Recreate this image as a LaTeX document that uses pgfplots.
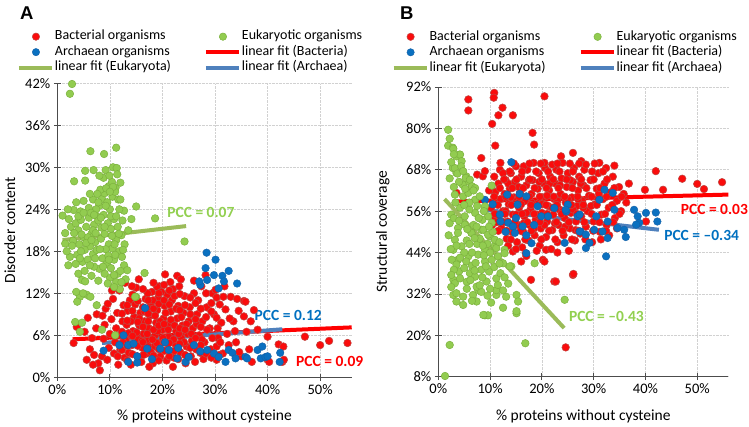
\documentclass[border=0pt]{standalone}
\usepackage{pgfplots}
\pgfplotsset{compat=1.18}
\usepackage{fontspec}
\setmainfont{Carlito}
\newfontfamily\arialfont{Liberation Sans}
\definecolor{redfill}{RGB}{250,12,12}
\definecolor{rededge}{RGB}{192,72,68}
\definecolor{greenfill}{RGB}{146,204,80}
\definecolor{greenedge}{RGB}{124,178,62}
\definecolor{bluefill}{RGB}{10,112,192}
\definecolor{blueedge}{RGB}{20,95,165}
\definecolor{redline}{RGB}{255,0,0}
\definecolor{blueline}{RGB}{79,129,189}
\definecolor{greenline}{RGB}{155,187,89}
\definecolor{pccgreen}{RGB}{146,208,80}
\definecolor{pccblue}{RGB}{0,112,192}
\definecolor{pccred}{RGB}{255,0,0}

\tikzset{pcc/.style={anchor=west, inner sep=0pt, font=\bfseries\fontsize{15.5}{17}\selectfont}}

\pgfplotsset{
  myaxis/.style={
    scale only axis, clip=false,
    axis lines=left, axis line style={-, draw=black!70, line width=0.8pt},
    tick align=center, major tick length=7pt,
    tick style={draw=black!70, line width=0.8pt},
    grid=major, major grid style={densely dotted, draw=black!18, line width=0.6pt},
    xmin=0, xmax=56, xtick={0,10,20,30,40,50},
    xticklabels={0\%,10\%,20\%,30\%,40\%,50\%},
    tick label style={font=\fontsize{14.5}{16}\selectfont},
    label style={font=\fontsize{15.5}{17}\selectfont},
    xlabel={\% proteins without cysteine},
    legend columns=2,
    legend cell align=left,
    legend style={draw=none, fill=none, inner sep=0pt, outer sep=0pt, anchor=north west,
      font=\fontsize{14}{16}\selectfont,
      nodes={inner sep=1pt, text height=10pt, text depth=3.5pt},
      /tikz/every even column/.append style={column sep=32pt}},
  },
  bac/.style={only marks, mark=*, mark size=3.8pt, mark options={fill=redfill, draw=rededge, line width=0.55pt}, forget plot},
  arc/.style={only marks, mark=*, mark size=3.8pt, mark options={fill=bluefill, draw=blueedge, line width=0.4pt}, forget plot},
  euk/.style={only marks, mark=*, mark size=3.8pt, mark options={fill=greenfill, draw=greenedge, line width=0.5pt}, forget plot},
}

\newcommand{\legendentries}{%
  \addlegendimage{legend image code/.code={\path[draw=none,fill=none] (0pt,0pt) -- (33pt,0pt); \filldraw[fill=redfill, draw=rededge, line width=0.5pt] (17pt,0pt) circle (3.7pt);}}
  \addlegendentry{Bacterial organisms}
  \addlegendimage{legend image code/.code={\path[draw=none,fill=none] (0pt,0pt) -- (33pt,0pt); \filldraw[fill=greenfill, draw=greenedge, line width=0.5pt] (17pt,0pt) circle (3.7pt);}}
  \addlegendentry{Eukaryotic organisms}
  \addlegendimage{legend image code/.code={\path[draw=none,fill=none] (0pt,0pt) -- (33pt,0pt); \filldraw[fill=bluefill, draw=blueedge, line width=0.4pt] (17pt,0pt) circle (3.7pt);}}
  \addlegendentry{Archaean organisms}
  \addlegendimage{legend image code/.code={\draw[line width=4pt, redline] (0pt,0pt) -- (33pt,0pt);}}
  \addlegendentry{linear fit (Bacteria)}
  \addlegendimage{legend image code/.code={\draw[line width=4pt, greenline] (0pt,0pt) -- (33pt,0pt);}}
  \addlegendentry{linear fit (Eukaryota)}
  \addlegendimage{legend image code/.code={\draw[line width=4pt, blueline] (0pt,0pt) -- (33pt,0pt);}}
  \addlegendentry{linear fit (Archaea)}
}

\begin{document}
\begin{tikzpicture}
\useasboundingbox (0,0) rectangle (749pt,-427pt);

\node[anchor=north west, inner sep=0pt, font=\arialfont\bfseries\fontsize{18.5}{19}\selectfont] at (20pt,-7pt) {A};
\node[anchor=north west, inner sep=0pt, font=\arialfont\bfseries\fontsize{18.5}{19}\selectfont] at (400pt,-7pt) {B};

% ---------------- Panel A ----------------
\begin{axis}[myaxis,
  at={(57.3pt,-377.3pt)}, anchor=south west,
  width=294.4pt, height=294pt,
  ymin=0, ymax=42, ytick={0,6,12,18,24,30,36,42},
  yticklabels={0\%,6\%,12\%,18\%,24\%,30\%,36\%,42\%},
  ylabel={Disorder content},
  x label style={at={(axis description cs:0.5,-0.134)}, anchor=center},
  y label style={at={(axis description cs:-0.161,0.5)}, anchor=center},
  legend style={at={(axis description cs:-0.137,1.185)}},
]
\legendentries
% Bacteria
\addplot[bac] coordinates {
(3.1,4.9) (3.7,7.2) (5.6,2.5) (5.2,6.5) (5.8,8.5) (6.2,4.0) (6.6,5.6) (7.0,3.2) (7.4,7.0) (7.8,2.0) (8.1,1.0) (7.5,9.0) (6.8,1.8)
(8.5,3.0) (8.8,5.5) (9.0,7.5) (9.2,9.8) (9.5,2.5) (9.8,4.2) (10.0,6.2) (10.3,8.3) (10.6,11.2) (10.8,3.4) (11.0,5.0) (11.2,7.0) (11.4,9.2) (11.6,1.8) (11.8,12.4) (12.0,4.0) (12.2,6.0) (12.4,8.0) (12.6,10.3) (12.8,2.8) (10.4,12.4) (9.6,10.5) (8.6,8.8)
(13.0,5.3) (13.2,7.5) (13.4,9.5) (13.6,3.5) (13.8,11.0) (14.0,1.8) (14.2,4.6) (14.4,6.6) (14.6,8.6) (14.8,10.4) (15.0,12.8) (15.2,3.0) (15.4,5.4) (15.6,7.4) (15.8,9.2) (16.0,2.2) (16.2,4.2) (16.4,6.2) (16.6,8.0) (16.8,11.2) (12.9,13.5) (14.2,13.0) (15.5,14.0) (13.3,2.4)
(17.0,3.4) (17.2,5.2) (17.4,7.0) (17.6,8.8) (17.8,10.5) (18.0,12.2) (18.2,2.0) (18.4,4.4) (18.6,6.0) (18.8,7.8) (19.0,9.6) (19.2,11.4) (19.4,13.0) (19.6,3.0) (19.8,5.0) (20.0,6.8) (20.2,8.4) (20.4,10.2) (20.5,14.7) (19.0,12.9) (17.5,1.5) (18.9,4.9) (20.8,2.4)
(21.0,4.0) (21.2,5.8) (21.4,7.6) (21.6,9.4) (21.8,11.0) (22.0,12.6) (22.2,2.8) (22.4,4.8) (22.6,6.6) (22.8,8.4) (22.8,14.5) (23.0,10.2) (23.2,13.0) (23.4,3.6) (23.6,5.6) (23.8,7.4) (24.0,9.2) (24.2,11.6) (24.4,2.0) (24.6,4.4) (24.8,6.2) (23.5,14.0) (21.5,13.6) (22.0,1.5)
(25.0,8.0) (25.2,10.0) (25.4,3.0) (25.6,5.2) (25.8,7.0) (26.0,12.0) (26.2,2.2) (26.4,4.0) (26.6,9.0) (26.8,11.0) (27.0,6.0) (27.2,3.5) (27.4,13.0) (27.6,8.0) (27.8,2.6) (28.0,5.0) (28.2,14.6) (28.4,10.0) (26.0,13.8)
(29.0,7.0) (29.2,4.0) (29.5,12.0) (29.8,9.0) (30.1,12.5) (30.3,2.5) (30.6,5.6) (30.9,10.4) (31.2,7.8) (31.5,3.4) (32.0,9.7) (32.3,6.2) (31.8,13.0) (32.6,4.6)
(33.0,11.5) (33.5,8.0) (34.0,5.0) (34.5,9.5) (35.0,3.0) (35.5,10.9) (35.5,8.7) (36.0,6.5) (36.5,4.0) (35.8,10.8) (37.4,9.6) (38.1,6.8) (37.0,2.2)
(40.0,5.8) (40.0,2.5) (40.3,2.2) (42.1,4.7) (43.0,4.4) (42.8,2.2) (43.1,2.5) (47.1,5.8) (50.0,4.6) (51.7,5.2) (55.2,4.9)
(15.1,6.4) (16.1,5.2) (17.1,6.2) (18.1,5.4) (19.1,6.6) (20.1,5.6) (21.1,6.8) (22.1,5.4) (23.1,6.2) (24.1,5.0) (15.6,8.4) (16.6,9.4) (17.6,9.8) (18.6,8.8) (19.6,8.0) (20.6,9.2) (21.6,8.2) (22.6,9.8) (23.6,8.6) (24.6,7.6) (16.4,3.2) (17.8,3.6) (19.3,2.4) (20.4,3.8) (21.8,3.2) (23.0,2.6) (18.2,11.0) (20.9,11.8) (19.8,12.2) (17.2,12.0) (25.5,6.2) (26.5,7.6) (27.5,5.4) (28.5,6.8) (29.5,5.6) (30.5,7.0) (14.0,8.0) (13.5,6.3) (12.5,5.0) (11.5,3.0)
(12.3,3.9) (12.3,6.5) (12.3,9.1) (13.3,4.5) (13.3,8.1) (13.3,10.3) (14.3,3.3) (14.3,5.9) (14.3,9.5) (14.3,11.8) (15.3,4.5) (15.3,7.9) (15.3,10.9) (16.3,5.0) (16.3,7.2) (16.3,10.0) (16.3,12.6)
(17.3,4.4) (17.3,8.0) (17.3,9.1) (17.3,11.0) (18.3,3.1) (18.3,6.8) (18.3,9.8) (18.3,13.5) (19.3,4.0) (19.3,7.4) (19.3,10.5) (19.3,12.0) (20.3,5.0) (20.3,7.6) (20.3,11.0) (20.3,13.2)
(21.3,3.0) (21.3,4.9) (21.3,10.4) (21.3,12.4) (22.3,3.8) (22.3,7.4) (22.3,11.6) (23.3,4.8) (23.3,7.0) (23.3,9.6) (23.3,11.9) (24.3,3.2) (24.3,6.8) (24.3,10.3) (25.3,4.2) (25.3,9.0) (25.3,11.4)
(26.3,5.6) (26.3,8.3) (26.3,10.6) (27.3,4.6) (27.3,7.2) (27.3,9.8) (28.3,3.4) (28.3,8.6) (28.3,12.0) (29.3,2.8) (29.3,9.4) (29.3,10.6) (30.3,4.4) (30.3,8.5) (30.3,11.4)
(31.0,5.0) (32.8,8.4) (33.8,6.6) (34.6,3.6) (31.6,11.5) (30.8,3.2) (36.8,8.0) (34.2,11.2)
};
% Archaea
\addplot[arc] coordinates {
(28.4,17.8) (30.1,16.8) (32.6,15.2) (31.4,14.5) (31.7,13.7) (34.2,13.4) (28.5,13.9) (30.7,12.7) (29.8,14.6) (27.2,13.2) (28.2,15.6) (27.0,13.7) (16.7,9.9) (12.6,6.0)
(8.8,3.8) (11.8,4.6) (13.5,4.6) (13.5,2.2) (15.2,2.1) (15.2,3.0) (17.1,4.1) (19.6,4.1) (21.2,3.9) (22.8,2.7) (24.4,2.2) (25.0,2.9) (27.2,3.7) (28.5,3.9) (29.8,3.4) (30.7,2.9) (32.0,2.2) (32.6,3.9) (33.3,3.5) (33.9,2.7) (35.8,2.9) (36.1,2.7) (38.1,3.9) (39.0,4.4) (38.7,2.7) (39.6,2.9) (40.0,3.0) (42.4,3.5) (42.3,2.2) (20.5,5.0) (23.0,4.2) (26.0,4.6) (18.0,2.6) (14.5,4.8)
};
% Eukaryota
\addplot[euk] coordinates {
(2.8,41.9) (2.4,40.5) (6.3,32.3) (8.9,31.9) (11.2,32.8) (5.3,29.5) (6.9,29.6) (9.2,29.6) (10.6,30.0) (11.3,29.9) (11.4,29.0) (3.2,28.0) (5.3,28.1) (9.8,27.3) (10.4,27.9) (11.1,27.1) (1.0,23.1) (3.1,23.9) (4.4,23.7) (12.7,23.8) (15.0,24.4) (14.1,22.6) (18.6,22.7) (24.2,19.4) (16.6,14.9) (15.0,11.5) (12.7,16.0) (13.3,15.3)
(1.5,20.6) (1.5,19.1) (2.1,16.0) (2.4,17.2) (1.8,18.0) (2.6,21.5) (3.0,19.5)
(3.4,7.9) (4.7,7.8) (4.3,6.5) (8.5,6.8) (11.0,6.0) (4.3,11.5) (5.6,11.8) (7.5,10.3) (3.8,10.8) (6.3,11.5) (14.8,11.5) (4.7,13.9) (5.3,13.7) (3.6,12.2) (4.9,12.0)
(3.5,22.0) (4.0,21.0) (4.5,22.5) (5.0,20.0) (5.5,21.5) (6.0,22.8) (6.5,20.5) (7.0,21.8) (7.5,23.0) (8.0,24.5) (8.5,25.5) (9.0,26.3) (9.5,25.0) (10.0,24.0) (10.5,25.8) (11.0,26.5) (8.2,26.8) (9.3,27.0) (7.8,22.4) (8.8,23.2) (9.6,22.0) (10.2,21.2) (10.8,22.6) (11.5,21.5) (11.8,24.0) (12.2,20.3) (7.2,19.3) (6.2,18.7) (5.2,18.2) (4.2,19.0) (3.8,17.5) (4.8,16.5) (5.8,16.8) (6.8,17.6) (7.5,18.2) (8.3,19.8) (9.0,20.5) (9.8,19.0) (10.5,18.4) (11.2,19.6) (11.8,18.0) (12.3,17.2) (8.6,17.0) (9.4,16.2) (10.2,15.6) (10.8,16.8) (11.5,14.8) (10.0,14.2) (9.0,14.8) (8.0,15.5) (7.0,15.8) (6.5,14.5) (7.8,13.8) (9.6,13.4) (11.2,13.6) (12.0,15.2) (5.8,20.0) (6.8,21.0) (7.4,24.0) (8.4,21.4) (9.2,18.3) (10.4,20.2) (11.0,17.5) (4.6,20.4) (3.2,20.6) (2.8,18.8) (3.5,16.2) (4.0,14.8) (5.2,15.2) (6.0,24.2) (6.8,25.4) (7.6,26.2) (8.8,28.5) (9.9,28.8) (10.6,27.2) (11.6,25.4) (12.4,22.4) (12.8,19.0) (11.9,12.6) (10.8,12.9) (13.5,21.0) (13.0,14.0)
(4.5,18.0) (5.5,19.2) (6.5,19.6) (7.3,20.6) (8.1,18.3) (9.7,17.4) (10.9,19.0) (11.7,20.5) (12.5,18.2) (4.3,17.0) (6.2,16.0) (7.2,17.0) (8.7,15.8) (9.8,16.8) (10.8,14.6) (12.2,13.6) (4.0,23.0) (5.0,23.5) (6.4,23.5) (7.0,23.2) (8.3,22.8) (9.2,24.5) (10.2,23.0) (11.2,23.0) (12.0,25.4) (9.0,21.5) (10.0,26.5) (7.8,25.0) (6.2,26.2) (5.0,25.2) (3.6,25.0) (2.2,22.6) (2.0,24.0) (12.0,27.8) (8.0,28.8)
};
% fits
\addplot[greenline, line width=4pt, forget plot] coordinates {(1.0,19.6) (24.5,21.6)};
\addplot[redline, line width=4pt, forget plot] coordinates {(2.9,5.43) (56,7.13)};
\addplot[blueline, line width=4pt, forget plot] coordinates {(8.5,4.9) (42.8,6.86)};
\node[pcc, text=pccgreen] at (axis cs:20.9,23.5) {PCC = 0.07};
\node[pcc, text=pccblue] at (axis cs:37.5,8.8) {PCC = 0.12};
\node[pcc, text=pccred] at (axis cs:45.4,2.2) {PCC = 0.09};
\end{axis}

% ---------------- Panel B ----------------
\begin{axis}[myaxis,
  at={(438.3pt,-376.7pt)}, anchor=south west,
  width=290pt, height=289.7pt,
  ymin=8, ymax=92, ytick={8,20,32,44,56,68,80,92},
  yticklabels={8\%,20\%,32\%,44\%,56\%,68\%,80\%,92\%},
  ylabel={Structural coverage},
  x label style={at={(axis description cs:0.5,-0.138)}, anchor=center},
  y label style={at={(axis description cs:-0.191,0.5)}, anchor=center},
  legend style={at={(axis description cs:-0.161,1.2)}},
]
\legendentries
% Bacteria
\addplot[bac] coordinates {
(5.8,88.4) (5.8,85.2) (10.8,90.3) (10.7,88.9) (12.4,86.0) (11.6,83.8) (14.4,83.8) (10.4,81.3) (20.5,89.3) (18.2,78.7) (18.5,75.3) (11.0,75.0) (8.3,71.4) (3.5,61.3) (7.5,66.6) (8.6,66.1) (9.0,67.6)
(42.0,67.6) (47.1,65.4) (50.0,63.9) (51.3,62.4) (54.8,64.4) (39.9,62.2) (43.4,62.2) (40.1,53.0) (27.6,70.5) (31.1,70.0) (34.0,69.2) (32.4,68.5) (23.7,71.9) (26.0,72.9)
(26.0,37.5) (22.4,35.6) (24.6,16.5) (20.2,41.9) (20.8,44.8) (14.4,44.3) (16.0,41.4) (17.9,36.1) (22.7,35.6) (26.1,37.8) (16.9,43.8) (20.5,41.4)
(10.2,57) (10.5,62) (10.8,66) (11.0,54) (11.3,59) (11.6,64) (11.9,68) (12.2,51) (12.5,56) (12.8,61) (13.0,65) (13.2,48) (10.4,52) (12.0,70)
(13.4,53) (13.6,58) (13.8,62.5) (14.0,67) (14.2,50) (14.4,55) (14.6,60) (14.8,64.5) (15.0,69) (15.2,47) (15.4,52) (15.6,57) (15.8,61.5) (16.0,66) (16.2,45.5)
(16.4,50) (16.6,54.5) (16.8,59) (17.0,63.5) (17.2,68) (17.4,47.5) (17.6,52) (17.8,56.5) (18.0,61) (18.2,65) (18.4,70) (18.6,49) (18.8,53.5) (19.0,58) (19.2,62.5) (19.4,67)
(19.6,46) (19.8,51) (20.0,55.5) (20.2,60) (20.4,64) (20.6,68.5) (20.8,48.5) (21.0,53) (21.2,57.5) (21.4,62) (21.6,66) (21.8,45) (22.0,50.5) (22.2,55) (22.4,59.5)
(22.6,64) (22.8,68) (23.0,47) (23.2,52) (23.4,56.5) (23.6,61) (23.8,65.5) (24.0,70) (24.2,49) (24.4,54) (24.6,58.5) (24.8,63) (25.0,67) (25.2,44.5)
(25.4,51) (25.6,55.5) (25.8,60) (26.0,64.5) (26.2,68.5) (26.4,47.5) (26.6,53) (26.8,57.5) (27.0,62) (27.2,66) (27.4,49.5) (27.6,54.5) (27.8,59) (28.0,63.5) (28.2,68)
(28.5,51.5) (28.8,56) (29.1,60.5) (29.4,65) (29.7,47) (30.0,53) (30.3,58) (30.6,62.5) (30.9,67) (31.2,50) (31.5,55) (31.8,59.5) (32.1,64)
(32.5,52) (32.9,57) (33.3,61.5) (33.7,66) (34.1,54) (34.5,59) (34.9,63) (35.3,56) (35.8,61) (36.3,58.5) (36.8,64) (33.0,49) (34.5,51)
(12,59.5) (13,56) (14,60) (15,55) (16,58) (17,55.5) (18,58.5) (19,55) (20,58) (21,60.5) (22,57) (23,59) (24,56) (25,59.5) (26,56.5) (27,59.5) (28,57)
(13.5,64) (15.5,63) (17.5,65) (19.5,64.5) (21.5,64) (23.5,63.5) (25.5,65) (27.5,64) (14.5,51.5) (16.5,52.5) (18.5,51) (20.5,52) (22.5,52.5) (24.5,51.5) (26.5,50.5)
(12.5,67) (16.5,69) (20.5,70) (22,69.5) (28.5,69.5) (29.5,57.5) (31,61) (15,45) (19,44.5) (23,44) (17,43) (13.5,46) (11,61.5) (9.8,62)
(14.0,47.8) (16.8,47.8) (19.9,47.8) (22.6,47.8) (25.8,47.8) (28.4,47.8) (31.4,47.8)
(11.6,50.3) (13.2,50.3) (15.9,50.3) (18.0,50.3) (21.4,50.3) (24.0,50.3) (27.0,50.3) (29.9,50.3) (32.4,50.3)
(11.3,52.8) (12.6,52.8) (14.8,52.8) (17.2,52.8) (19.6,52.8) (22.8,52.8) (25.2,52.8) (28.2,52.8) (31.1,52.8) (33.8,52.8)
(10.9,55.2) (12.9,55.2) (16.2,55.2) (18.5,55.2) (21.0,55.2) (23.8,55.2) (26.8,55.2) (29.6,55.2) (32.2,55.2) (35.0,55.2)
(11.5,57.8) (14.1,57.8) (15.4,57.8) (17.9,57.8) (20.8,57.8) (22.9,57.8) (25.7,57.8) (28.0,57.8) (30.6,57.8) (33.6,57.8)
(10.8,60.2) (13.0,60.2) (15.6,60.2) (17.6,60.2) (19.6,60.2) (22.3,60.2) (24.4,60.2) (26.9,60.2) (29.6,60.2) (32.5,60.2) (35.4,60.2)
(11.9,62.7) (14.3,62.7) (16.4,62.7) (18.6,62.7) (20.9,62.7) (23.2,62.7) (25.9,62.7) (28.6,62.7) (31.2,62.7) (34.0,62.7)
(12.7,65.2) (15.1,65.2) (17.7,65.2) (20.0,65.2) (22.2,65.2) (24.8,65.2) (27.6,65.2) (30.0,65.2) (32.6,65.2)
(13.8,67.5) (16.2,67.5) (18.9,67.5) (21.2,67.5) (23.4,67.5) (26.0,67.5) (29.7,67.5) (31.8,67.5)
(14.6,69.8) (17.6,69.8) (19.8,69.8) (23.0,69.8) (25.4,69.8) (27.2,69.8) (30.2,69.8)
};
% Archaea
\addplot[arc] coordinates {
(14.1,70.2) (13.3,60.8) (15.7,61.0) (17.0,60.3) (15.3,57.9) (9.0,59.3) (11.9,55.0) (13.5,52.6) (14.4,51.6) (14.8,49.7) (16.3,51.6) (17.0,43.8) (18.0,46.7)
(19.2,57.4) (19.9,54.5) (21.2,54.5) (22.4,56.9) (25.0,57.9) (24.7,55.9) (24.6,56.4) (26.9,54.5) (27.5,50.1)
(32.1,62.2) (33.7,61.3) (34.0,56.4) (31.1,59.3) (27.3,55.0) (30.5,54.5) (32.7,53.0) (34.6,51.1) (27.3,50.1) (28.5,49.2) (30.1,50.6) (31.7,50.1) (29.2,46.8) (28.5,45.3) (32.4,42.9)
(35.9,50.6) (36.2,48.5) (37.8,56.4) (38.5,54.5) (38.8,52.6) (40.1,55.5) (42.0,55.6) (42.3,53.0) (38.2,52.1) (32.7,48.2) (24.4,46.8)
(10.5,58) (12,53) (13,50) (15,54) (17,49) (18.5,52)
};
% Eukaryota
\addplot[euk] coordinates {
(1.9,79.6) (1.9,75.0) (2.8,74.4) (4.1,72.4) (2.8,68.5) (3.5,67.1) (5.4,66.1) (5.7,64.7) (4.7,63.7) (6.3,62.7) (10.3,63.4)
(2.9,74.1) (3.5,71.9) (4.2,72.4) (4.5,70.5) (3.2,68.5) (4.4,69.0) (3.7,66.9) (4.8,67.6) (5.3,65.6) (6.1,65.1) (6.5,63.2) (7.1,62.7)
(3.2,60.8) (4.8,60.3) (5.8,61.3) (7.1,59.3) (8.0,60.3) (9.0,57.4) (9.6,54.5) (10.3,52.6) (7.1,55.5) (5.1,54.5) (3.8,51.1) (3.2,47.7) (4.5,45.8) (6.4,49.7) (8.3,50.6) (9.9,48.7) (10.9,45.8) (5.8,42.9) (3.8,41.9) (7.7,43.4) (9.0,41.4) (11.5,42.9) (12.8,44.8) (14.1,40.0) (18.6,40.9)
(5.1,52.1) (3.8,49.7) (6.4,49.7) (8.7,50.6) (9.6,49.2) (10.9,47.7) (11.2,45.3) (12.8,43.8) (12.5,40.9) (13.8,40.0) (24.4,30.3) (2.2,17.2) (16.8,17.7) (1.3,8.2)
(2.9,44.8) (2.6,41.9) (3.5,40.5) (5.4,41.4) (6.1,38.0) (8.3,39.0) (10.3,41.9) (2.9,36.1) (3.2,35.1) (2.9,31.7) (3.5,32.2) (4.8,31.2) (4.8,28.8) (6.7,31.7) (7.4,29.8) (7.7,33.1) (8.3,32.6) (9.0,25.8) (9.6,25.8) (11.2,31.7) (11.2,33.1) (13.1,31.2) (15.1,31.7) (15.4,29.8) (15.1,26.4) (11.5,34.6) (11.2,36.5) (9.3,35.6) (7.1,37.0) (7.4,34.1) (8.7,25.9) (15.1,27.0)
(6.0,56.5) (7.5,57.5) (8.5,53.5) (6.8,52.0) (4.2,57.0) (2.5,55.0) (5.5,47.5) (7.5,46.5) (9.0,44.8) (6.5,44.0) (4.0,38.5) (5.5,35.5) (6.5,40.2) (9.8,38.5) (12.0,38.0) (8.5,36.8) (10.2,29.5) (12.5,28.0)
(2.2,52.5) (3.0,54.0) (4.0,53.2) (5.6,50.8) (7.4,51.5) (8.0,48.0) (9.5,46.5) (10.5,50.0) (2.0,49.0) (3.5,46.0) (5.0,44.0) (6.0,46.5) (7.0,48.2) (8.6,46.0) (10.0,44.0) (11.8,47.0) (2.4,45.0) (4.2,42.5) (7.2,41.0) (8.8,43.2) (10.8,39.8) (11.8,40.8) (3.0,39.0) (5.0,39.5) (7.0,38.8) (9.2,40.0) (2.5,37.5) (4.2,36.5) (6.2,36.0) (8.0,34.5) (10.0,33.5) (12.5,33.0) (5.5,33.5) (6.5,30.0) (9.5,31.5) (3.5,29.8) (2.5,34.0) (13.5,35.0) (12.8,36.8)
(6.0,58.5) (5.0,57.8) (8.8,56.0) (7.8,54.0) (9.8,51.5) (3.3,58.5) (6.8,62.0) (5.2,62.5) (4.0,64.5) (3.0,63.0) (2.2,65.5) (2.5,70.2) (3.0,72.5) (2.2,77.0)
};
% fits
\addplot[greenline, line width=4pt, forget plot] coordinates {(1.2,59.5) (24.3,22.1)};
\addplot[redline, line width=4pt, forget plot] coordinates {(3.2,58.8) (56,60.8)};
\addplot[blueline, line width=4pt, forget plot] coordinates {(9.0,56.4) (42.6,50.6)};
\node[pcc, text=pccred] at (axis cs:46.8,56.6) {PCC = 0.03};
\node[pcc, text=pccblue] at (axis cs:43.6,49.0) {PCC = –0.34};
\node[pcc, text=pccgreen] at (axis cs:25.2,25.6) {PCC = –0.43};
\end{axis}
\end{tikzpicture}
\end{document}
